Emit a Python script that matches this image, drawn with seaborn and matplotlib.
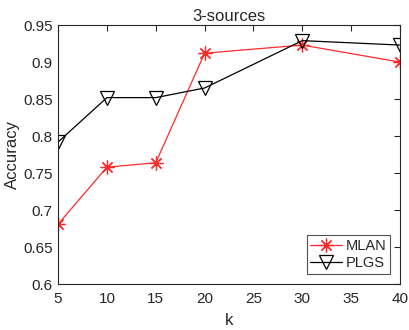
import matplotlib
matplotlib.use("Agg")
import matplotlib.pyplot as plt
import seaborn as sns
import pandas as pd

k = [5, 10, 15, 20, 30, 40]
mlan = [0.681, 0.758, 0.764, 0.912, 0.923, 0.900]
plgs = [0.792, 0.852, 0.852, 0.865, 0.929, 0.923]
xticks = [5, 10, 15, 20, 25, 30, 35, 40]
yticks = [0.6, 0.65, 0.7, 0.75, 0.8, 0.85, 0.9, 0.95]
ytick_labels = ["0.6", "0.65", "0.7", "0.75", "0.8", "0.85", "0.9", "0.95"]

sns.set_style("white")
plt.rcParams["font.family"] = ["Liberation Sans", "DejaVu Sans"]

fig = plt.figure(figsize=(4.09, 3.30), dpi=100)
ax = fig.add_axes([0.142, 0.139, 0.836, 0.785])

df_m = pd.DataFrame({"k": k, "acc": mlan})
df_p = pd.DataFrame({"k": k, "acc": plgs})

sns.lineplot(data=df_m, x="k", y="acc", ax=ax, color="#ff2a2a", marker=(8, 2, 0),
             markersize=10, markeredgewidth=0.9, markeredgecolor="#ff2a2a",
             linewidth=0.9, label="MLAN")
sns.lineplot(data=df_p, x="k", y="acc", ax=ax, color="black", marker="v",
             markersize=10.5, markerfacecolor="none", markeredgecolor="black",
             markeredgewidth=0.9, linewidth=0.9, label="PLGS")

ax.set_xlim(5, 40)
ax.set_ylim(0.6, 0.95)
ax.set_xticks(xticks)
ax.set_yticks(yticks)
ax.set_yticklabels(ytick_labels)
ax.tick_params(direction="in", length=4, width=0.8, labelsize=11, colors="#262626",
               top=True, right=True, pad=4)
ax.tick_params(axis="x", pad=6)
for s in ax.spines.values():
    s.set_color("#262626")
    s.set_linewidth(0.8)
ax.set_xlabel("k", fontsize=12, color="#262626", labelpad=5)
ax.set_ylabel("Accuracy", fontsize=12, color="#262626", labelpad=2)
ax.set_title("3-sources", fontsize=12, color="#262626", pad=3)

leg = ax.legend(loc="lower right", fontsize=10.5, frameon=True, fancybox=False,
                edgecolor="#262626", borderaxespad=0.7, handlelength=2.2,
                borderpad=0.25, labelspacing=0.25, handletextpad=0.2)
leg.get_frame().set_linewidth(0.8)

fig.savefig("out.png", dpi=100)
